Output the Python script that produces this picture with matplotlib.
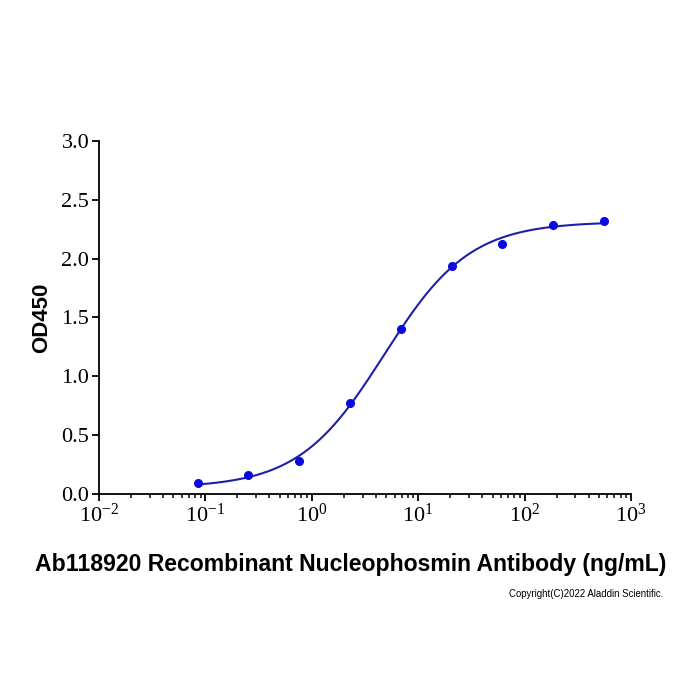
import numpy as np
import matplotlib
matplotlib.use("Agg")
import matplotlib.pyplot as plt
from matplotlib.ticker import LogLocator, FixedLocator, FuncFormatter

# antibody concentration (ng/mL), 3-fold dilutions, and measured OD450
conc = [0.0847, 0.254, 0.762, 2.29, 6.86, 20.6, 61.7, 185.2, 555.6]
od450 = [0.091, 0.159, 0.283, 0.773, 1.399, 1.94, 2.127, 2.29, 2.32]

x = np.array(conc)
y = np.array(od450)

# 4PL fit: grid over ec50 / hill, bottom and top solved linearly
best = None
for lec in np.linspace(-0.5, 1.5, 201):
    for h in np.linspace(0.5, 2.5, 201):
        f = 1.0 / (1.0 + (10**lec / x) ** h)
        A = np.column_stack([np.ones_like(f), f])
        coef, res, _, _ = np.linalg.lstsq(A, y, rcond=None)
        err = np.sum((A @ coef - y) ** 2)
        if best is None or err < best[0]:
            best = (err, lec, h, coef)
_, lec, h, coef = best
xs = np.logspace(np.log10(x.min()), np.log10(x.max()), 400)
ys = coef[0] + coef[1] / (1.0 + (10**lec / xs) ** h)

fig = plt.figure(figsize=(7, 7), dpi=100)
ax = fig.add_axes([0.1414, 0.2943, 0.7600, 0.5043])

ax.plot(xs, ys, color="#1f1fa8", lw=1.5, zorder=2)
ax.plot(x, y, "o", color="#0a0ae0", ms=5.5, zorder=3)

ax.set_xscale("log")
ax.set_xlim(1e-2, 1e3)
ax.set_ylim(0, 3.0)

for s in ["top", "right"]:
    ax.spines[s].set_visible(False)
for s in ["left", "bottom"]:
    ax.spines[s].set_linewidth(1.3)

ax.yaxis.set_major_locator(FixedLocator([0, 0.5, 1.0, 1.5, 2.0, 2.5, 3.0]))
ax.yaxis.set_major_formatter(FuncFormatter(lambda v, p: "%.1f" % v))
ax.xaxis.set_major_locator(LogLocator(base=10, numticks=10))
ax.xaxis.set_minor_locator(LogLocator(base=10, subs=np.arange(2, 10), numticks=20))
ax.xaxis.set_major_formatter(FuncFormatter(lambda v, p: r"$\mathregular{10^{%d}}$" % round(np.log10(v))))

ax.tick_params(axis="both", which="major", direction="out", length=5, width=1.3,
               labelsize=16, pad=2)
ax.tick_params(axis="x", which="minor", direction="out", length=3, width=1.1)
for lab in ax.get_xticklabels() + ax.get_yticklabels():
    lab.set_fontfamily("Liberation Serif")

ax.set_ylabel("OD450", fontsize=16, fontweight="bold", family="Liberation Sans", labelpad=7)
fig.text(0.501, 0.193, "Ab118920 Recombinant Nucleophosmin Antibody (ng/mL)",
         ha="center", va="center", fontsize=16.6, fontweight="bold", family="Liberation Sans")
fig.text(0.947, 0.151, "Copyright(C)2022 Aladdin Scientific.", ha="right", va="center",
         fontsize=6.9, family="Liberation Sans")

fig.savefig("out.png", dpi=100)
